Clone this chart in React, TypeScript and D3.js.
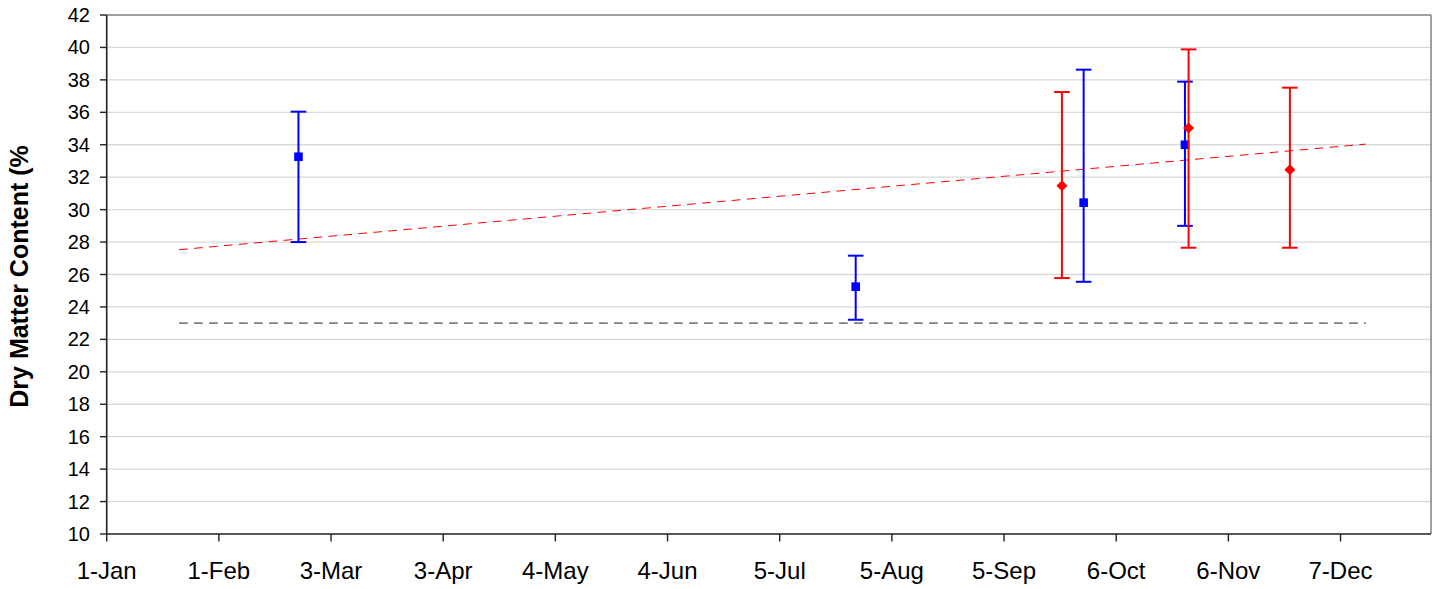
import React from "react";
import * as d3 from "d3";

// ---- data ----
const xTickLabels = ["1-Jan", "1-Feb", "3-Mar", "3-Apr", "4-May", "4-Jun", "5-Jul", "5-Aug", "5-Sep", "6-Oct", "6-Nov", "7-Dec"];
const xTickDates = ["2008-01-01", "2008-02-01", "2008-03-03", "2008-04-03", "2008-05-04", "2008-06-04", "2008-07-05", "2008-08-05", "2008-09-05", "2008-10-06", "2008-11-06", "2008-12-07"];
const yTicks = [10, 12, 14, 16, 18, 20, 22, 24, 26, 28, 30, 32, 34, 36, 38, 40, 42];

const blueDates = ["2008-02-23", "2008-07-26", "2008-09-27", "2008-10-25"];
const blueValues = [33.26, 25.25, 30.43, 34.0];
const blueLow = [28.0, 23.21, 25.55, 29.0];
const blueHigh = [36.04, 27.16, 38.63, 37.89];

const redDates = ["2008-09-21", "2008-10-26", "2008-11-23"];
const redValues = [31.47, 35.03, 32.46];
const redLow = [25.78, 27.65, 27.65];
const redHigh = [37.25, 39.88, 37.52];

const trendDates = ["2008-01-21", "2008-12-14"];
const trendValues = [27.53, 34.04];
const refDates = ["2008-01-21", "2008-12-14"];
const refValues = [23, 23];

const yTitle = "Dry Matter Content (%";

// ---- layout ----
const W = 1439, H = 589;
const L = 106.7, R = 1431, T = 15, B = 534;
const FONT = "'Liberation Sans', Arial, sans-serif";

const p = (s: string) => new Date(s + "T00:00:00Z");

export default function App() {
  const x = d3.scaleUtc().domain([p("2008-01-01"), p("2009-01-01")]).range([L, R]);
  const y = d3.scaleLinear().domain([10, 42]).range([B, T]);
  const line = d3.line<[string, number]>().x(d => x(p(d[0]))).y(d => y(d[1]));
  const cap = 7.8;

  const bars = (dates: string[], vals: number[], lo: number[], hi: number[], color: string, shape: "square" | "diamond") =>
    dates.map((dt, i) => {
      const cx = x(p(dt));
      const cy = y(vals[i]);
      const y1 = y(hi[i]);
      const y2 = y(lo[i]);
      return (
        <g key={color + i}>
          <line x1={cx} x2={cx} y1={y1} y2={y2} stroke={color} strokeWidth={2} />
          <line x1={cx - cap} x2={cx + cap} y1={y1} y2={y1} stroke={color} strokeWidth={2} />
          <line x1={cx - cap} x2={cx + cap} y1={y2} y2={y2} stroke={color} strokeWidth={2} />
          {shape === "square" ? (
            <rect x={cx - 4.3} y={cy - 4.3} width={8.6} height={8.6} fill={color} />
          ) : (
            <path d={`M${cx},${cy - 5.5}L${cx + 5.5},${cy}L${cx},${cy + 5.5}L${cx - 5.5},${cy}Z`} fill={color} />
          )}
        </g>
      );
    });

  return (
    <svg width={W} height={H} style={{ position: "absolute", left: 0, top: 0, background: "#fff" }} fontFamily={FONT}>
      <rect x={0} y={0} width={W} height={H} fill="#fff" />
      {/* gridlines */}
      {yTicks.filter(v => v > 10 && v < 42).map(v => (
        <line key={"g" + v} x1={L} x2={R} y1={y(v)} y2={y(v)} stroke="#d9d9d9" strokeWidth={1.3} />
      ))}
      {/* frame top/right */}
      <line x1={L} x2={R} y1={T} y2={T} stroke="#808080" strokeWidth={1.5} />
      <line x1={R} x2={R} y1={T} y2={B} stroke="#808080" strokeWidth={1.5} />
      {/* reference line */}
      <path d={line(refDates.map((d, i) => [d, refValues[i]] as [string, number])) || ""} stroke="#808080" strokeWidth={1.6} strokeDasharray="8.7 6.3" fill="none" />
      {/* trend line */}
      <path d={line(trendDates.map((d, i) => [d, trendValues[i]] as [string, number])) || ""} stroke="#ff0000" strokeWidth={1} strokeDasharray="8.7 6.3" fill="none" />
      {bars(blueDates, blueValues, blueLow, blueHigh, "#0000ff", "square")}
      {bars(redDates, redValues, redLow, redHigh, "#ff0000", "diamond")}
      {/* axes */}
      <line x1={L} x2={L} y1={T} y2={B} stroke="#222" strokeWidth={1.6} />
      <line x1={L} x2={R} y1={B} y2={B} stroke="#222" strokeWidth={1.6} />
      {yTicks.map(v => (
        <g key={"y" + v}>
          <line x1={L - 6.7} x2={L} y1={y(v)} y2={y(v)} stroke="#222" strokeWidth={1.4} />
          <text x={90} y={y(v)} dy="0.35em" textAnchor="end" fontSize={20} fill="#000">{v}</text>
        </g>
      ))}
      {xTickDates.map((d, i) => (
        <g key={"x" + i}>
          <line x1={x(p(d))} x2={x(p(d))} y1={B} y2={B + 7.5} stroke="#222" strokeWidth={1.4} />
          <text x={x(p(d))} y={579} textAnchor="middle" fontSize={24} fill="#000">{xTickLabels[i]}</text>
        </g>
      ))}
      <text transform={`translate(28,276.5) rotate(-90)`} textAnchor="middle" fontSize={25} fontWeight="bold" fill="#000">{yTitle}</text>
    </svg>
  );
}
